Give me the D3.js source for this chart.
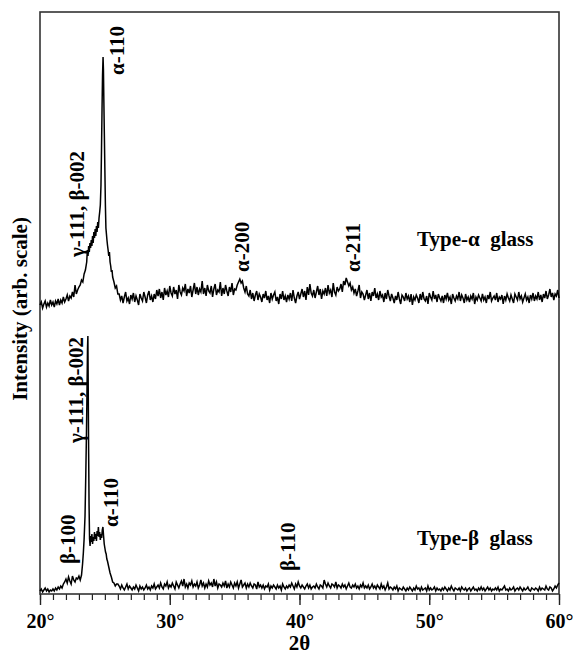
<!DOCTYPE html>
<html>
<head>
<meta charset="utf-8">
<script src="https://cdn.jsdelivr.net/npm/d3@7"></script>
<style>
  body { margin: 0; background: #fff; }
  text { font-family: "Liberation Serif", "Times New Roman", serif; font-weight: bold; }
</style>
</head>
<body>
<div id="chart"></div>
<script>
// scan step (2-theta, degrees)
var scanStep = 0.1

// Type-alpha glass (drawn with an offset above the beta pattern)
var alphaOffset = 560
var alphaLowStart = 20.0
var alphaLow = [18,24,12,20,26,14,22,16,28,18,
  24,14,26,20,30,18,28,22,34,24,
  30,38,26,36,32,44,34,58,40,48,
  54]
var alphaPeakTheta = [23.1,23.2,23.3,23.4,23.5,23.6,23.65,23.7,23.75,23.8,23.85,23.9,23.95,24.0,24.05,24.1,24.15,24.2,24.25,24.3,24.35,24.4,24.45,24.5,24.55,24.6,24.65,24.7,24.74,24.78,24.82,24.86,24.89,24.92,24.96,25.0,25.04,25.08,25.12,25.16,25.2,25.25,25.3,25.35,25.4,25.45,25.5,25.55,25.6,25.7,25.8,25.9,26.0]
var alphaPeak = [58,68,64,80,88,104,128,116,136,124,142,132,148,136,156,142,164,152,170,156,176,164,184,172,192,204,218,258,328,408,478,514,488,428,358,288,218,172,160,148,138,128,116,124,104,96,84,88,74,64,52,56,40]
var alphaHighStart = 26.1
var alphaHigh = [
  40,28,36,22,34,44,26,32,20,38,
  30,42,24,36,28,18,40,32,26,44,
  34,22,38,46,28,36,24,40,30,48,
  36,50,32,44,28,52,38,46,34,56,
  42,36,54,40,48,30,58,44,38,52,
  46,60,36,50,42,56,34,48,62,40,
  54,38,50,44,66,40,52,36,58,46,
  42,56,34,50,60,38,48,44,64,36,
  52,40,58,46,36,54,44,62,38,50,
  48,58,64,70,62,66,52,44,56,40,
  36,48,30,42,26,38,46,28,40,34,
  24,40,32,46,28,36,22,42,30,38,
  44,26,34,20,40,30,46,28,36,24,
  38,30,42,26,48,32,22,36,44,30,
  40,50,34,46,28,54,38,60,42,36,
  48,32,44,56,38,50,30,46,40,52,
  36,58,42,48,34,62,44,38,54,46,
  50,60,44,66,58,72,64,56,62,48,
  54,42,50,36,46,58,32,44,40,28,
  38,48,30,42,26,44,36,52,32,40,
  28,46,34,38,24,42,30,48,36,26,
  40,32,22,36,28,44,30,20,38,34,
  26,42,30,36,24,40,18,34,28,38,
  32,22,40,28,44,30,26,36,20,42,
  34,28,46,30,38,24,40,32,26,36,
  22,38,30,42,28,34,20,40,32,26,
  36,30,44,26,38,32,22,40,28,34,
  24,36,30,42,20,34,28,38,32,26,
  40,28,34,22,38,30,44,26,32,36,
  28,42,24,34,30,38,20,36,28,40,
  32,26,38,30,22,40,34,28,44,30,
  36,24,32,40,28,34,22,38,30,42,
  26,36,30,44,28,38,24,40,32,46,
  30,38,50,34,42,28,40,36,48,32]

// Type-beta glass
var betaLowStart = 20.0
var betaLow = [6,10,4,8,12,6,10,4,8,6,
  10,6,12,8,14,10,16,12,20,24,
  30,22,34,26,20,36,28,24,32]
var betaPeakTheta = [22.9,23.0,23.1,23.2,23.28,23.34,23.4,23.47,23.53,23.58,23.62,23.66,23.69,23.72,23.75,23.78,23.82,23.86,23.9,23.95,24.0,24.05,24.1,24.15,24.2,24.25,24.3,24.35,24.4,24.45,24.5,24.55,24.6,24.65,24.7,24.75,24.8,24.85,24.9,24.95,25.0,25.05,25.1,25.15,25.2,25.3,25.4,25.5,25.6,25.7,25.8,25.9]
var betaPeak = [30,36,28,38,60,82,110,156,240,320,400,490,516,400,280,180,110,96,116,104,120,100,114,106,124,110,120,106,126,116,134,114,124,108,120,112,128,134,116,100,92,84,80,70,66,54,42,34,24,22,16,20]
var betaHighStart = 26.0
var betaHigh = [20,
  16,10,18,12,8,14,20,10,16,12,
  8,14,10,18,12,6,16,10,14,8,
  12,18,10,14,8,16,12,20,10,14,
  18,12,22,14,10,20,16,24,12,18,
  14,22,16,10,24,18,12,20,26,16,
  30,14,20,12,22,18,26,14,20,16,
  24,12,18,28,16,22,12,20,14,26,
  18,22,14,30,16,24,12,20,18,14,
  22,16,26,12,20,14,24,18,12,22,
  16,24,12,20,28,14,18,22,12,20,
  14,22,16,12,20,18,10,24,14,18,
  12,18,10,16,14,20,8,16,12,18,
  14,10,18,12,16,8,20,14,10,16,
  12,18,14,22,16,10,20,14,24,16,
  12,18,14,10,16,20,12,18,10,14,
  16,12,20,14,10,18,16,12,28,20,
  14,22,16,12,20,18,14,24,12,18,
  16,12,20,14,18,10,16,22,14,12,
  18,14,20,12,16,10,18,14,22,12,
  16,12,18,10,14,20,12,16,10,18,
  14,10,20,12,16,8,14,22,10,14,
  12,8,14,10,16,6,12,10,8,14,
  10,6,12,8,14,10,6,12,8,16,
  10,12,6,14,8,10,12,6,16,8,
  12,8,10,14,6,12,8,10,6,12,
  8,14,10,6,12,8,16,10,6,12,
  10,8,12,6,14,10,8,12,6,10,
  12,6,10,14,8,10,6,12,8,14,
  8,12,6,10,14,8,12,6,10,8,
  12,8,14,6,10,8,12,16,8,10,
  6,12,8,10,14,6,10,12,8,14,
  10,6,12,8,10,14,8,6,12,10,
  8,12,10,6,14,8,12,10,8,16,
  10,8,14,12,6,10,16,12,18,22]

// peak labels: [text, 2theta of label centre, intensity at label start]
var alphaLabels = [["α-110", 25.93, 1038], ["γ-111, β-002", 22.85, 674], ["α-200", 35.57, 644], ["α-211", 44.12, 644]]
var betaLabels = [["γ-111, β-002", 22.75, 302], ["α-110", 25.47, 134], ["β-100", 22.16, 60], ["β-110", 39.11, 46]]
var sampleNames = [["Type-α  glass", 49.06, 696], ["Type-β  glass", 49.06, 98]]

var xTicks = [20, 30, 40, 50, 60]

var svgSize = { width: 573, height: 655 }
var margin = { top: 12, bottom: 61, left: 40, right: 14 }
var chartSize = {
  width: svgSize.width - margin.left - margin.right,
  height: svgSize.height - margin.top - margin.bottom
}

function buildTrace(lowStart, low, peakTheta, peak, highStart, high, offset) {
  var pts = []
  low.forEach((v, i) => pts.push([+(lowStart + i * scanStep).toFixed(2), v + offset]))
  peak.forEach((v, i) => pts.push([peakTheta[i], v + offset]))
  high.forEach((v, i) => pts.push([+(highStart + i * scanStep).toFixed(2), v + offset]))
  return pts
}

var alphaTrace = buildTrace(alphaLowStart, alphaLow, alphaPeakTheta, alphaPeak, alphaHighStart, alphaHigh, alphaOffset)
var betaTrace = buildTrace(betaLowStart, betaLow, betaPeakTheta, betaPeak, betaHighStart, betaHigh, 0)

var svg = d3.select("#chart").append("svg")
  .attr("width", svgSize.width)
  .attr("height", svgSize.height)

var frame = svg.append("g")
  .attr("transform", `translate(${margin.left}, ${margin.top})`)

var xScale = d3.scaleLinear().domain([20, 60]).range([0, chartSize.width])
var yScale = d3.scaleLinear().domain([0, 1164]).range([chartSize.height, 0])

// minor ticks every degree
frame.append("g")
  .attr("transform", `translate(0, ${chartSize.height})`)
  .call(d3.axisBottom(xScale).tickValues(d3.range(20, 61, 1)).tickSize(6).tickFormat(""))
  .call(g => g.select(".domain").remove())
  .call(g => g.selectAll("line").attr("stroke", "#222").attr("stroke-width", 1.2))

// major ticks + labels
var xAxis = frame.append("g")
  .attr("transform", `translate(0, ${chartSize.height})`)
  .call(d3.axisBottom(xScale).tickValues(xTicks).tickSize(11).tickFormat(d => d + "°"))
xAxis.select(".domain").remove()
xAxis.selectAll("line").attr("stroke", "#222").attr("stroke-width", 1.4)
xAxis.selectAll("text")
  .attr("y", 34).attr("dy", null)
  .attr("font-size", 20).attr("font-family", null).attr("fill", "#000")

// frame box
frame.append("rect")
  .attr("width", chartSize.width)
  .attr("height", chartSize.height)
  .attr("fill", "none")
  .attr("stroke", "#333")
  .attr("stroke-width", 1.6)

var line = d3.line()
  .x(d => xScale(d[0]))
  .y(d => yScale(d[1]))

frame.append("path").datum(alphaTrace)
  .attr("d", line).attr("fill", "none").attr("stroke", "#000").attr("stroke-width", 1.5)
frame.append("path").datum(betaTrace)
  .attr("d", line).attr("fill", "none").attr("stroke", "#000").attr("stroke-width", 1.5)

// rotated peak labels
frame.selectAll(".peak").data(alphaLabels.concat(betaLabels))
  .enter().append("text")
  .attr("class", "peak")
  .attr("transform", d => `translate(${xScale(d[1]) + 7}, ${yScale(d[2])}) rotate(-90)`)
  .attr("font-size", 21)
  .text(d => d[0])

frame.selectAll(".sample").data(sampleNames)
  .enter().append("text")
  .attr("class", "sample")
  .attr("x", d => xScale(d[1]))
  .attr("y", d => yScale(d[2]))
  .attr("font-size", 21)
  .style("white-space", "pre")
  .text(d => d[0])

// axis titles
svg.append("text")
  .attr("x", margin.left + chartSize.width / 2)
  .attr("y", 650)
  .attr("text-anchor", "middle")
  .attr("font-size", 21)
  .text("2θ")

svg.append("text")
  .attr("transform", `translate(27, 309) rotate(-90)`)
  .attr("text-anchor", "middle")
  .attr("font-size", 21)
  .text("Intensity (arb. scale)")
</script>
</body>
</html>
